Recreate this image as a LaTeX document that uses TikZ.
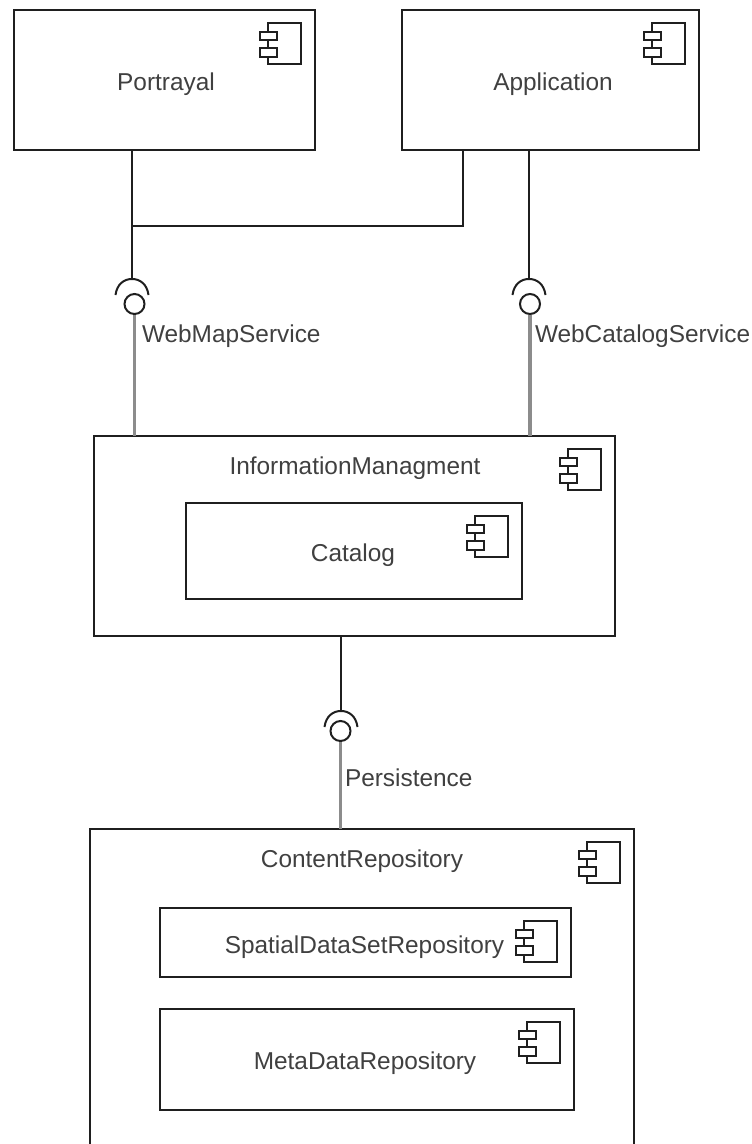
\documentclass[tikz,border=0pt]{standalone}
\usepackage{fontspec}
\setmainfont{Liberation Sans}
\definecolor{edge}{gray}{0.12}
\definecolor{txt}{gray}{0.25}
\definecolor{provided}{gray}{0.55}
\tikzset{
  compbox/.style={draw=edge,line width=2pt,fill=white,rectangle,inner sep=0pt,outer sep=0pt,text=txt,font=\fontsize{24.4}{28}\selectfont},
  opencomp/.style={rectangle,inner sep=0pt,outer sep=0pt},
  caption/.style={inner sep=0pt,outer sep=0pt,text=txt,font=\fontsize{24.4}{28}\selectfont},
  ball/.style={circle,draw=edge,line width=2pt,minimum size=20pt,inner sep=0pt,outer sep=1pt},
  socket/.style={draw=edge,line width=2pt},
  required/.style={draw=edge,line width=2pt},
  providedline/.style={draw=provided,line width=3.4pt},
  iconpart/.style={draw=edge,line width=1.8pt,fill=white},
}
\newcommand{\compicon}[1]{%
  \draw[iconpart] ([shift={(-47,13)}]#1.north east) rectangle ([shift={(-14,54)}]#1.north east);
  \draw[iconpart] ([shift={(-55,22)}]#1.north east) rectangle ([shift={(-38,30)}]#1.north east);
  \draw[iconpart] ([shift={(-55,38)}]#1.north east) rectangle ([shift={(-38,47)}]#1.north east);
}
\newcommand{\socketarc}[1]{%
  \draw[socket] ([shift={(-16.5,16)}]#1) .. controls ([shift={(-15,5)}]#1) and ([shift={(-8,0)}]#1) .. (#1) .. controls ([shift={(8,0)}]#1) and ([shift={(15,5)}]#1) .. ([shift={(16.5,16)}]#1);
}
\begin{document}
\begin{tikzpicture}[x=1pt,y=-1pt]
\useasboundingbox (0,0) rectangle (752,1144);
% boxes
\node[compbox,minimum width=301pt,minimum height=140pt] (portrayal) at (164.5,80) {};
\node[caption] (portrayaltext) at (166,84.5) {Portrayal};
\node[compbox,minimum width=297pt,minimum height=140pt] (application) at (550.5,80) {};
\node[caption] (applicationtext) at (553,84.5) {Application};
\node[compbox,minimum width=521pt,minimum height=200pt] (info) at (354.5,536) {};
\node[caption] (infotext) at (355,468.5) {InformationManagment};
\node[compbox,minimum width=336pt,minimum height=96pt] (catalog) at (354,551) {};
\node[caption] (catalogtext) at (353,555.5) {Catalog};
\node[opencomp,minimum width=544pt,minimum height=315pt] (content) at (362,986.5) {};
\draw[required] (content.south west) -- (content.north west) -- (content.north east) -- (content.south east);
\node[caption] (contenttext) at (362,861.5) {ContentRepository};
\node[compbox,minimum width=411pt,minimum height=69pt] (spatial) at (365.5,942.5) {};
\node[caption] (spatialtext) at (364.5,947) {SpatialDataSetRepository};
\node[compbox,minimum width=414pt,minimum height=101pt] (meta) at (367,1059.5) {};
\node[caption] (metatext) at (365,1063.5) {MetaDataRepository};
\compicon{portrayal}
\compicon{application}
\compicon{info}
\compicon{catalog}
\compicon{content}
\compicon{spatial}
\compicon{meta}
% interfaces
\node[ball] (ballA) at (134.5,304) {};
\node[ball] (ballB) at (530,304) {};
\node[ball] (ballC) at (340.5,731) {};
\coordinate (sockA) at (132,279);
\coordinate (sockB) at (529,279);
\coordinate (sockC) at (341,711);
\coordinate (branch) at (463,226);
\socketarc{sockA}
\socketarc{sockB}
\socketarc{sockC}
% required lines
\draw[required] (portrayal.south -| sockA) -- (sockA);
\draw[required] (application.south -| sockB) -- (sockB);
\draw[required] (info.south -| sockC) -- (sockC);
\draw[required] (application.south -| branch) -- (branch) -- (branch -| sockA);
% provided lines
\draw[providedline] (ballA.south) -- (info.north -| ballA.south);
\draw[providedline] (ballB.south) -- (info.north -| ballB.south);
\draw[providedline] (ballC.south) -- (content.north -| ballC.south);
% labels
\node[caption,anchor=west] (wms) at (142,336) {WebMapService};
\node[caption,anchor=west] (wcs) at (535,336) {WebCatalogService};
\node[caption,anchor=west] (pers) at (345,778) {Persistence};
\end{tikzpicture}
\end{document}
